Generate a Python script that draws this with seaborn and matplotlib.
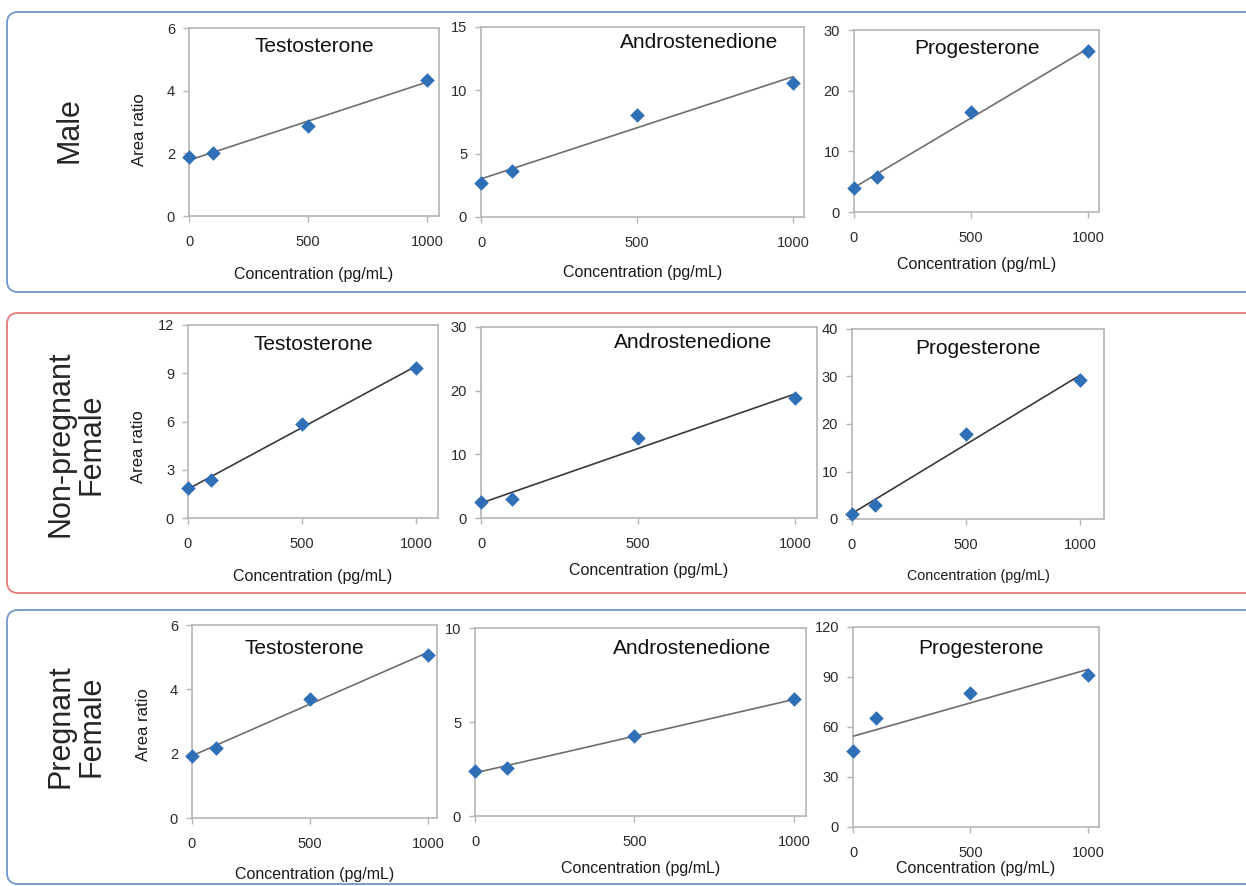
import numpy as np
import pandas as pd
import seaborn as sns
import matplotlib
matplotlib.use('Agg')
import matplotlib.pyplot as plt
from matplotlib.patches import FancyBboxPatch
from matplotlib.transforms import IdentityTransform

# concentrations (pg/mL)
conc = [0, 100, 500, 1000]

# area ratios
male_testo = [1.88, 2.0, 2.88, 4.35]
male_andro = [2.7, 3.6, 8.05, 10.6]
male_prog = [3.95, 5.85, 16.5, 26.5]

np_testo = [1.87, 2.36, 5.85, 9.35]
np_andro = [2.5, 3.0, 12.5, 18.8]
np_prog = [1.1, 2.95, 17.9, 29.3]

pf_testo = [1.93, 2.17, 3.7, 5.08]
pf_andro = [2.4, 2.55, 4.27, 6.2]
pf_prog = [45.5, 65.2, 80.2, 91.0]

groups = ['Male', 'Non-pregnant\nFemale', 'Pregnant\nFemale']
hormones = ['Testosterone', 'Androstenedione', 'Progesterone']
series = [[male_testo, male_andro, male_prog],
          [np_testo, np_andro, np_prog],
          [pf_testo, pf_andro, pf_prog]]
yticks = [[[0, 2, 4, 6], [0, 5, 10, 15], [0, 10, 20, 30]],
          [[0, 3, 6, 9, 12], [0, 10, 20, 30], [0, 10, 20, 30, 40]],
          [[0, 2, 4, 6], [0, 5, 10], [0, 30, 60, 90, 120]]]
xticks = [0, 500, 1000]

# layout in pixels: (left, top, right, bottom), xmax, title x frac, title dy, xlabel dy, xlabel size
W, H = 1246, 886
layout = [
    [((189, 28, 439, 216), 1050, 0.50, 18, 59, 11.5),
     ((481, 27, 804, 217), 1035, 0.675, 16, 55, 11.5),
     ((854, 30, 1099, 212), 1047, 0.50, 18, 53, 11.5)],
    [((188, 325, 438, 518), 1096, 0.50, 20, 58, 11.5),
     ((481, 327, 817, 518), 1070, 0.63, 15, 52, 11.5),
     ((852, 329, 1104, 519), 1105, 0.50, 20, 57, 10.3)],
    [((192, 625, 437, 818), 1038, 0.46, 23, 57, 11.5),
     ((475, 628, 806, 816), 1038, 0.655, 20, 53, 11.5),
     ((853, 627, 1099, 827), 1047, 0.52, 21, 41, 11.5)],
]
ylabel_y = [130, 447, 725]
boxes = [(12, 292, '#7097c8'), (313, 593, '#e57a7a'), (610, 884, '#7097c8')]
row_label_pos = [(70, 130), (76, 444), (76, 726)]
line_cols = ['#6e6e6e', '#3a3a3a', '#6e6e6e']

sns.set_style('white')
plt.rcParams['font.family'] = ['Liberation Sans', 'DejaVu Sans']

fig = plt.figure(figsize=(W / 100, H / 100), dpi=100)

# rounded group boxes
for top, bot, col in boxes:
    fig.patches.append(FancyBboxPatch((7, H - bot), 1300, bot - top,
                                      boxstyle='round,pad=0,rounding_size=11',
                                      transform=IdentityTransform(), fill=False,
                                      edgecolor=col, linewidth=1.3, figure=fig))

for r in range(3):
    fig.text(row_label_pos[r][0] / W, 1 - row_label_pos[r][1] / H, groups[r],
             rotation=90, ha='center', va='center', fontsize=22,
             linespacing=1.0, multialignment='center')
    for c in range(3):
        (l, t, rr, b), xmax, tx, tdy, xdy, xls = layout[r][c]
        ax = fig.add_axes([l / W, 1 - b / H, (rr - l) / W, (b - t) / H])
        df = pd.DataFrame({'conc': conc, 'ratio': series[r][c]})
        sns.regplot(data=df, x='conc', y='ratio', ax=ax, ci=None, marker='D',
                    color='#2f6fb5',
                    scatter_kws=dict(s=55, clip_on=False, zorder=4, linewidths=0, alpha=1),
                    line_kws=dict(color=line_cols[r], lw=1.2, zorder=3))
        ax.set_xlim(0, xmax)
        ax.set_ylim(0, yticks[r][c][-1])
        ax.set_xticks(xticks)
        ax.set_yticks(yticks[r][c])
        for s in ax.spines.values():
            s.set_color('#b5b5b5')
            s.set_linewidth(1.2)
        ax.tick_params(axis='x', bottom=True, length=4, width=1, color='#b5b5b5',
                       pad=10, labelsize=10.5, labelcolor='#2a2a2a')
        ax.tick_params(axis='y', left=True, length=4, width=1, color='#b5b5b5',
                       pad=6, labelsize=10.5, labelcolor='#2a2a2a')
        hp = b - t
        ax.text(tx, 1 - tdy / hp, hormones[c], transform=ax.transAxes,
                ha='center', va='center', fontsize=15, color='#111111')
        ax.set_xlabel('Concentration (pg/mL)', fontsize=xls, color='#1a1a1a')
        ax.xaxis.set_label_coords(0.5, -xdy / hp)
        ax.xaxis.label.set_va('center')
        if c == 0:
            ax.set_ylabel('Area ratio', fontsize=12, color='#1a1a1a')
            ax.yaxis.set_label_coords(-49 / (rr - l), (b - ylabel_y[r]) / hp)
            ax.yaxis.label.set_va('center')
        else:
            ax.set_ylabel('')

fig.savefig('out.png', dpi=100)
